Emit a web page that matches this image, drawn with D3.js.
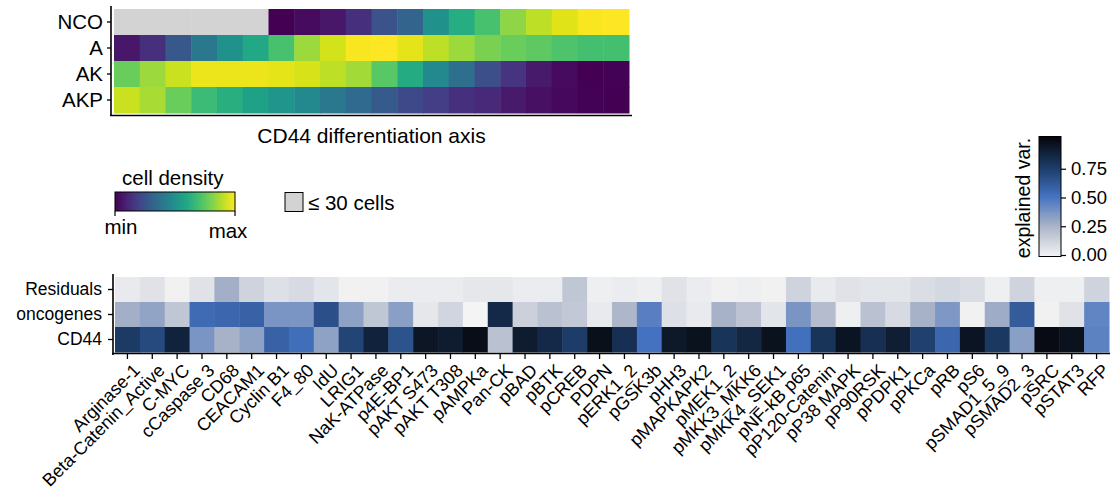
<!DOCTYPE html>
<html>
<head>
<meta charset="utf-8">
<script src="https://cdn.jsdelivr.net/npm/d3@7"></script>
<style>
body { margin: 0; background: #fff; }
text { font-family: "Liberation Sans", Arial, Helvetica, sans-serif; fill: #000; }
</style>
</head>
<body>
<div id="main"></div>
<script>
var width = 1113,
    height = 492;

// ---- top panel: cell density along the CD44 axis (20 bins), null = <= 30 cells
var conditions = ["NCO", "A", "AK", "AKP"];
var densNCO = [null, null, null, null, null, null, 0.0, 0.03, 0.06, 0.14, 0.25, 0.32, 0.5, 0.62, 0.71, 0.83, 0.9, 0.95, 0.99, 1.0];
var densA   = [0.06, 0.14, 0.27, 0.4, 0.5, 0.6, 0.71, 0.85, 0.93, 0.99, 1.0, 0.96, 0.9, 0.85, 0.8, 0.77, 0.75, 0.72, 0.7, 0.7];
var densAK  = [0.77, 0.85, 0.92, 0.97, 0.97, 0.97, 0.96, 0.94, 0.9, 0.86, 0.74, 0.61, 0.47, 0.36, 0.24, 0.15, 0.07, 0.03, 0.0, 0.005];
var densAKP = [0.92, 0.87, 0.77, 0.68, 0.63, 0.57, 0.52, 0.47, 0.4, 0.34, 0.28, 0.22, 0.18, 0.14, 0.11, 0.07, 0.04, 0.02, 0.005, 0.0];
var densRows = [densNCO, densA, densAK, densAKP];

// ---- bottom panel: explained variance per marker
var markers = ["Arginase-1", "Beta-Catenin_Active", "C-MYC", "cCaspase 3", "CD68", "CEACAM1",
    "Cyclin B1", "F4_80", "IdU", "LRIG1", "NaK-ATPase", "p4E-BP1", "pAKT S473", "pAKT T308",
    "pAMPKa", "Pan-CK", "pBAD", "pBTK", "pCREB", "PDPN", "pERK1_2", "pGSK3b", "pHH3",
    "pMAPKAPK2", "pMEK1_2", "pMKK3_MKK6", "pMKK4_SEK1", "pNF-kB p65", "pP120-Catenin",
    "pP38 MAPK", "pP90RSK", "pPDPK1", "pPKCa", "pRB", "pS6", "pSMAD1_5_9", "pSMAD2_3",
    "pSRC", "pSTAT3", "RFP"];
var components = ["Residuals", "oncogenes", "CD44"];
var residuals = [0.04, 0.07, 0.01, 0.07, 0.27, 0.13, 0.08, 0.1, 0.06, 0.01,
                 0.01, 0.03, 0.03, 0.03, 0.05, 0.05, 0.03, 0.03, 0.18, 0.02,
                 0.03, 0.02, 0.07, 0.03, 0.01, 0.02, 0.01, 0.13, 0.04, 0.07,
                 0.06, 0.06, 0.09, 0.11, 0.09, 0.02, 0.13, 0.02, 0.02, 0.13];
var oncogenes = [0.27, 0.31, 0.18, 0.53, 0.55, 0.57, 0.37, 0.37, 0.65, 0.32,
                 0.18, 0.33, 0.05, 0.12, 0.0, 0.83, 0.14, 0.2, 0.17, 0.04,
                 0.24, 0.45, 0.08, 0.04, 0.26, 0.19, 0.06, 0.37, 0.22, 0.02,
                 0.2, 0.1, 0.26, 0.36, 0.01, 0.28, 0.6, 0.01, 0.07, 0.43];
var cd44 = [0.75, 0.68, 0.86, 0.37, 0.26, 0.32, 0.57, 0.52, 0.32, 0.7,
            0.86, 0.64, 0.92, 0.89, 0.96, 0.2, 0.89, 0.83, 0.74, 0.95,
            0.8, 0.5, 0.91, 0.94, 0.78, 0.84, 0.94, 0.51, 0.78, 0.93,
            0.8, 0.88, 0.72, 0.55, 0.93, 0.76, 0.33, 0.97, 0.94, 0.44];
var varRows = [residuals, oncogenes, cd44];
var varTicks = [0, 0.25, 0.5, 0.75];

var svg = d3.select("div#main").append("svg")
    .attr("width", width)
    .attr("height", height);

var varColor = d3.scaleLinear()
    .domain([0, 0.25, 0.5, 0.75, 1])
    .range(["#f4f4f4", "#abb4c8", "#4472c0", "#1b3a64", "#050508"])
    .interpolate(d3.interpolateRgb);

var NA_GREY = "#d3d3d3";

// ================= top heatmap =================
var bins = d3.range(densNCO.length);
var tx = d3.scaleBand().domain(bins).range([114, 629]);
var ty = d3.scaleBand().domain(conditions).range([9, 113]);

var topG = svg.append("g");
conditions.forEach(function(c, i) {
    topG.selectAll(".t" + i)
        .data(densRows[i])
        .enter().append("rect")
        .attr("x", function(d, j) { return tx(j); })
        .attr("y", ty(c))
        .attr("width", tx.bandwidth() + 0.5)
        .attr("height", ty.bandwidth() + 0.5)
        .attr("fill", function(d) { return d == null ? NA_GREY : d3.interpolateViridis(d); });
});

var yTop = topG.append("g")
    .attr("transform", "translate(111,0)")
    .call(d3.axisLeft(ty).tickSize(4).tickPadding(4));
yTop.select(".domain").remove();
yTop.selectAll("text").style("font-size", "20.5px");
yTop.selectAll("line").attr("stroke-width", 1.3);

topG.append("line").attr("x1", 111).attr("x2", 111).attr("y1", 6).attr("y2", 116)
    .attr("stroke", "#000").attr("stroke-width", 1.6);
topG.append("line").attr("x1", 110).attr("x2", 632).attr("y1", 115.5).attr("y2", 115.5)
    .attr("stroke", "#000").attr("stroke-width", 1.6);

topG.append("text")
    .attr("x", (114 + 629) / 2)
    .attr("y", 143)
    .attr("text-anchor", "middle")
    .style("font-size", "21px")
    .text("CD44 differentiation axis");

// ---- cell density legend
var defs = svg.append("defs");
var grad = defs.append("linearGradient").attr("id", "viri");
d3.range(0, 1.0001, 0.1).forEach(function(t) {
    grad.append("stop").attr("offset", t).attr("stop-color", d3.interpolateViridis(t));
});

var leg = svg.append("g");
leg.append("text").attr("x", 122).attr("y", 185).style("font-size", "20.5px").text("cell density");
leg.append("rect").attr("x", 115).attr("y", 192).attr("width", 120).attr("height", 19)
    .attr("fill", "url(#viri)").attr("stroke", "#000").attr("stroke-width", 1);
[115, 235].forEach(function(x) {
    leg.append("line").attr("x1", x).attr("x2", x).attr("y1", 211).attr("y2", 216)
        .attr("stroke", "#000").attr("stroke-width", 1.2);
});
leg.append("text").attr("x", 121).attr("y", 234).attr("text-anchor", "middle")
    .style("font-size", "20.5px").text("min");
leg.append("text").attr("x", 228).attr("y", 238).attr("text-anchor", "middle")
    .style("font-size", "20.5px").text("max");

leg.append("rect").attr("x", 285).attr("y", 192.5).attr("width", 18).attr("height", 19)
    .attr("fill", NA_GREY).attr("stroke", "#000").attr("stroke-width", 1);
leg.append("text").attr("x", 308).attr("y", 210).style("font-size", "20.5px").text("\u2264 30 cells");

// ================= bottom heatmap =================
var bx = d3.scaleBand().domain(markers).range([115, 1109]);
var by = d3.scaleBand().domain(components).range([277, 352]);

var bot = svg.append("g");
components.forEach(function(c, i) {
    bot.selectAll(".b" + i)
        .data(varRows[i])
        .enter().append("rect")
        .attr("x", function(d, j) { return bx(markers[j]); })
        .attr("y", by(c))
        .attr("width", bx.bandwidth() + 0.5)
        .attr("height", by.bandwidth() + 0.5)
        .attr("fill", function(d) { return varColor(d); });
});

var yBot = bot.append("g")
    .attr("transform", "translate(113,0)")
    .call(d3.axisLeft(by).tickSize(5).tickPadding(6));
yBot.select(".domain").remove();
yBot.selectAll("text").style("font-size", "17.5px");
yBot.selectAll("line").attr("stroke-width", 1.3);

var xBot = bot.append("g")
    .attr("transform", "translate(0,354)")
    .call(d3.axisBottom(bx).tickSize(5).tickPadding(3));
xBot.select(".domain").remove();
xBot.selectAll("line").attr("stroke-width", 1.3);
xBot.selectAll("text")
    .style("font-size", "18px")
    .attr("text-anchor", "end")
    .attr("y", 0)
    .attr("dy", "0.75em")
    .attr("transform", "translate(4,8) rotate(-45)");

bot.append("line").attr("x1", 113).attr("x2", 113).attr("y1", 274).attr("y2", 355)
    .attr("stroke", "#000").attr("stroke-width", 1.6);
bot.append("line").attr("x1", 112).attr("x2", 1110).attr("y1", 353.5).attr("y2", 353.5)
    .attr("stroke", "#000").attr("stroke-width", 1.6);

// ---- explained variance colorbar
var vgrad = defs.append("linearGradient").attr("id", "vargrad")
    .attr("x1", 0).attr("x2", 0).attr("y1", 1).attr("y2", 0);
d3.range(0, 1.0001, 0.05).forEach(function(t) {
    vgrad.append("stop").attr("offset", t).attr("stop-color", varColor(t));
});

var cy = d3.scaleLinear().domain([0, 1]).range([255, 140]);
var cb = svg.append("g");
cb.append("rect").attr("x", 1039).attr("y", 136.5).attr("width", 22).attr("height", 120)
    .attr("fill", "url(#vargrad)").attr("stroke", "#000").attr("stroke-width", 1);
var cbAxis = cb.append("g")
    .attr("transform", "translate(1061,0)")
    .call(d3.axisRight(cy).tickValues(varTicks).tickFormat(d3.format(".2f")).tickSize(5).tickPadding(5));
cbAxis.select(".domain").remove();
cbAxis.selectAll("line").attr("stroke-width", 1.2);
cbAxis.selectAll("text").style("font-size", "18.5px");

cb.append("text")
    .attr("transform", "translate(1030,198) rotate(-90)")
    .attr("text-anchor", "middle")
    .style("font-size", "19.5px")
    .text("explained var.");
</script>
</body>
</html>
